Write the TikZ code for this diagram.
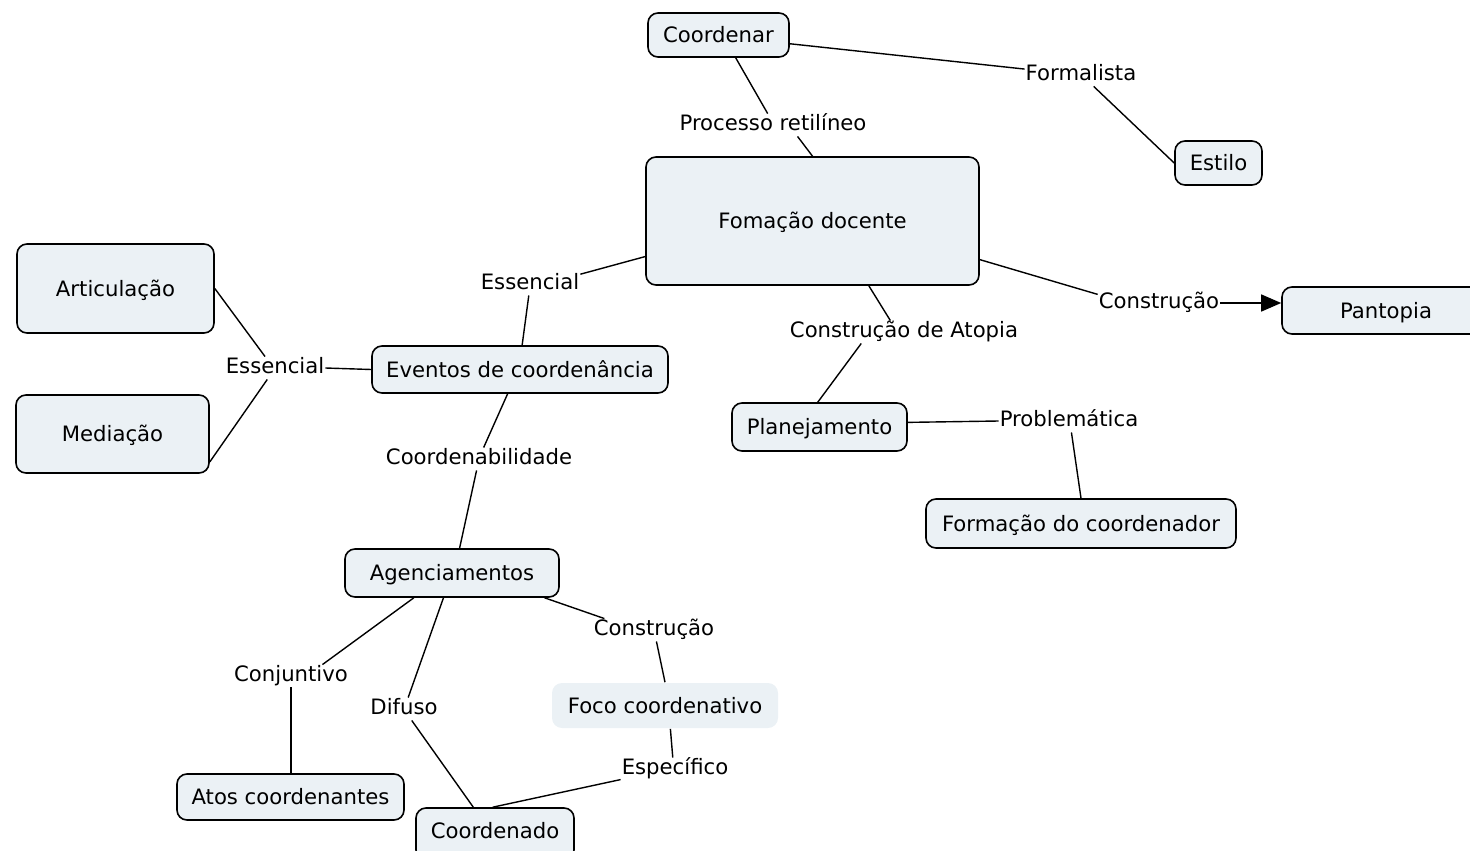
\documentclass[tikz,border=0pt]{standalone}
\usepackage{fontspec}
\setmainfont{DejaVu Sans}
\usetikzlibrary{arrows.meta}
\definecolor{conceptfill}{RGB}{235,241,245}
\begin{document}
\begin{tikzpicture}[x=1pt,y=-1pt,
  font=\fontsize{21.2}{25}\selectfont,
  concept/.style={draw=black, line width=1.6pt, fill=conceptfill, rounded corners=10pt,
    inner sep=0pt, text height=16pt, text depth=1pt},
  softconcept/.style={concept, draw=none},
  phrase/.style={inner sep=1pt, text height=16pt, text depth=4.5pt},
  link/.style={line width=1.4pt, draw=black}]
\useasboundingbox (0,0) rectangle (1470,851);

% concepts
\node[concept, minimum width=141pt, minimum height=44pt]  (C1) at (718.5,35)  {Coordenar};
\node[concept, minimum width=333pt, minimum height=128pt] (FD) at (812.5,221) {Fomação docente};
\node[concept, minimum width=87pt,  minimum height=44pt]  (ES) at (1218.5,163) {Estilo};
\node[concept, minimum width=208pt, minimum height=47pt]  (PA) at (1386,310.5) {Pantopia};
\node[concept, minimum width=197pt, minimum height=89pt]  (AR) at (115.5,288.5) {Articulação};
\node[concept, minimum width=193pt, minimum height=78pt]  (ME) at (112.5,434) {Mediação};
\node[concept, minimum width=296pt, minimum height=47pt]  (EV) at (520,369.5) {Eventos de coordenância};
\node[concept, minimum width=175pt, minimum height=48pt]  (PL) at (819.5,427) {Planejamento};
\node[concept, minimum width=310pt, minimum height=49pt]  (FC) at (1081,523.5) {Formação do coordenador};
\node[concept, minimum width=214pt, minimum height=48pt]  (AG) at (452,573) {Agenciamentos};
\node[softconcept, minimum width=226pt, minimum height=45pt] (FO) at (665,705.5) {Foco coordenativo};
\node[concept, minimum width=227pt, minimum height=46pt]  (AT) at (290.5,797) {Atos coordenantes};
\node[concept, minimum width=158pt, minimum height=52pt, text depth=8pt] (CO) at (495,834) {Coordenado};

% linking phrases
\node[phrase] (PR)  at (773,125)  {Processo retilíneo};
\node[phrase] (FM)  at (1081,75)  {Formalista};
\node[phrase] (ESu) at (530,284)  {Essencial};
\node[phrase] (CdA) at (904,332)  {Construção de Atopia};
\node[phrase] (CR)  at (1159,303) {Construção};
\node[phrase] (ESl) at (275,368)  {Essencial};
\node[phrase] (PB)  at (1069,421) {Problemática};
\node[phrase] (CB)  at (479,459)  {Coordenabilidade};
\node[phrase] (CL)  at (654,630)  {Construção};
\node[phrase] (CJ)  at (291,676)  {Conjuntivo};
\node[phrase] (DF)  at (404,709)  {Difuso};
\node[phrase] (SP)  at (675,769)  {Específico};

% connections
\draw[link] (C1.-53) -- (PR.115);
\draw[link] (PR.-25) -- (FD.north);
\draw[link] (C1.-7.3) -- (FM.174);
\draw[link] (FM.-42.5) -- (ES.west);
\draw[link] (FD.192.2) -- (ESu.11.3);
\draw[link] (ESu.264.4) -- (EV.85);
\draw[link] (FD.-49.6) -- (CdA.140);
\draw[link] (CdA.195) -- (PL.94);
\draw[link] (FD.-13.8) -- (CR.172);
\draw[link, -{Triangle[length=20pt,width=17pt]}] (CR.east) -- (PA.west |- CR.east);
\draw[link] (EV.west) -- (ESl.east);
\draw[link] (ESl.131) -- (AR.east);
\draw[link] (ESl.236) -- (ME.-16);
\draw[link] (PL.3) -- (PB.west);
\draw[link] (PB.-78) -- (FC.north);
\draw[link] (EV.243) -- (CB.68);
\draw[link] (CB.258.6) -- (AG.73.7);
\draw[link] (AG.-15.4) -- (CL.167);
\draw[link] (CL.-78) -- (FO.north);
\draw[link] (AG.213.7) -- (CJ.20);
\draw[link] (CJ.south) -- (CJ.south |- AT.north);
\draw[link] (AG.251.6) -- (DF.70);
\draw[link] (DF.-56) -- (CO.129);
\draw[link] (FO.-77.5) -- (SP.101);
\draw[link] (SP.191) -- (CO.95);
\end{tikzpicture}
\end{document}
